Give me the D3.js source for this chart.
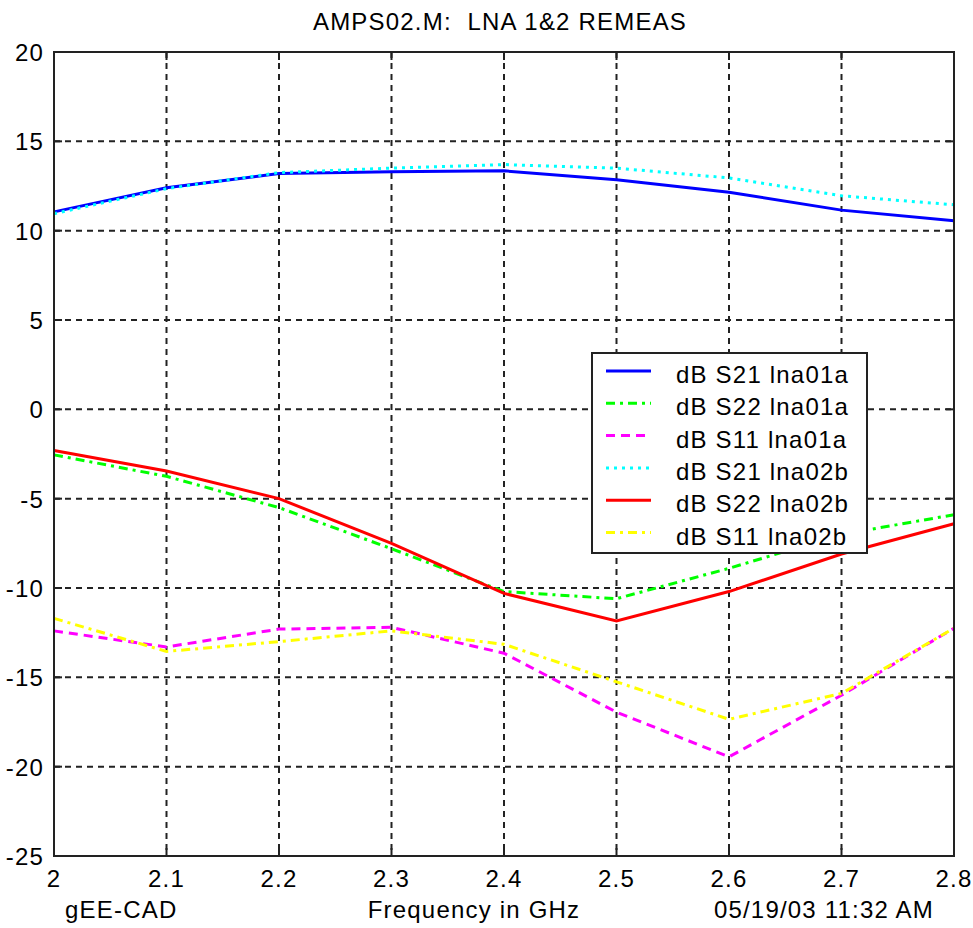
<!DOCTYPE html>
<html>
<head>
<meta charset="utf-8">
<script src="https://cdn.jsdelivr.net/npm/d3@7"></script>
<style>
  body { margin: 0; background: #fff; }
  svg text { font-family: "Liberation Sans", Arial, sans-serif; fill: #000; font-size: 24px; letter-spacing: 1.2px; }
</style>
</head>
<body>
<div class="chart"></div>
<script>
const width = 973
const height = 928

// frequency points (GHz)
const freq = [2.0, 2.1, 2.2, 2.3, 2.4, 2.5, 2.6, 2.7, 2.8];

const s21_lna01a = [11.05, 12.4, 13.2, 13.3, 13.35, 12.85, 12.15, 11.15, 10.55];
const s22_lna01a = [-2.55, -3.75, -5.5, -7.8, -10.2, -10.6, -8.9, -7.0, -5.9];
const s11_lna01a = [-12.4, -13.3, -12.3, -12.2, -13.65, -16.95, -19.45, -16.0, -12.25];
const s21_lna02b = [10.95, 12.35, 13.25, 13.5, 13.7, 13.5, 12.95, 11.95, 11.45];
const s22_lna02b = [-2.3, -3.45, -5.0, -7.5, -10.3, -11.85, -10.2, -8.1, -6.4];
const s11_lna02b = [-11.7, -13.55, -13.0, -12.4, -13.15, -15.25, -17.35, -15.9, -12.25];

const seriesNames = ["dB S21 lna01a", "dB S22 lna01a", "dB S11 lna01a",
                     "dB S21 lna02b", "dB S22 lna02b", "dB S11 lna02b"];
const seriesValues = [s21_lna01a, s22_lna01a, s11_lna01a, s21_lna02b, s22_lna02b, s11_lna02b];
const seriesColors = ["#0000ff", "#00ff00", "#ff00ff", "#00ffff", "#ff0000", "#ffff00"];
const seriesDash = [null, "9,5,3,5", "9,6", "3,5", null, "9,5,3,5"];

const xTicks = [2, 2.1, 2.2, 2.3, 2.4, 2.5, 2.6, 2.7, 2.8];
const yTicks = [20, 15, 10, 5, 0, -5, -10, -15, -20, -25];

const margin = {top: 52, right: 19, bottom: 72, left: 54};

const svg = d3.select(".chart").append("svg")
  .attr("width", width)
  .attr("height", height);

const x = d3.scaleLinear().domain([2, 2.8]).range([margin.left, width - margin.right]);
const y = d3.scaleLinear().domain([-25, 20]).range([height - margin.bottom, margin.top]);

// grid
const grid = svg.append("g")
  .attr("stroke", "#222")
  .attr("stroke-width", 2)
  .attr("stroke-dasharray", "6,5");

grid.selectAll(".gx")
  .data(xTicks.slice(1, -1))
  .join("line")
  .attr("x1", d => x(d)).attr("x2", d => x(d))
  .attr("y1", y(20)).attr("y2", y(-25));

grid.selectAll(".gy")
  .data(yTicks.slice(1, -1))
  .join("line")
  .attr("x1", x(2)).attr("x2", x(2.8))
  .attr("y1", d => y(d)).attr("y2", d => y(d));

// inner ticks on all four sides
const ticks = svg.append("g").attr("stroke", "#222").attr("stroke-width", 2);
xTicks.forEach(t => {
  ticks.append("line").attr("x1", x(t)).attr("x2", x(t)).attr("y1", y(-25)).attr("y2", y(-25) - 8);
  ticks.append("line").attr("x1", x(t)).attr("x2", x(t)).attr("y1", y(20)).attr("y2", y(20) + 8);
});
yTicks.forEach(t => {
  ticks.append("line").attr("x1", x(2)).attr("x2", x(2) + 8).attr("y1", y(t)).attr("y2", y(t));
  ticks.append("line").attr("x1", x(2.8)).attr("x2", x(2.8) - 8).attr("y1", y(t)).attr("y2", y(t));
});

// series lines
const line = d3.line()
  .x((d, i) => x(freq[i]))
  .y(d => y(d));

svg.append("g")
  .selectAll("path")
  .data(seriesValues)
  .join("path")
  .attr("fill", "none")
  .attr("stroke", (d, i) => seriesColors[i])
  .attr("stroke-width", 3)
  .attr("stroke-dasharray", (d, i) => seriesDash[i])
  .attr("d", line);

// frame
svg.append("rect")
  .attr("x", x(2)).attr("y", y(20))
  .attr("width", x(2.8) - x(2)).attr("height", y(-25) - y(20))
  .attr("fill", "none")
  .attr("stroke", "#222")
  .attr("stroke-width", 2);

// tick labels
svg.append("g")
  .selectAll("text")
  .data(yTicks)
  .join("text")
  .attr("x", x(2) - 10)
  .attr("y", d => y(d) + 9)
  .attr("text-anchor", "end")
  .text(d => d);

svg.append("g")
  .selectAll("text")
  .data(xTicks)
  .join("text")
  .attr("x", d => x(d))
  .attr("y", y(-25) + 31)
  .attr("text-anchor", "middle")
  .text(d => d);

// title + bottom labels
svg.append("text")
  .attr("x", 500).attr("y", 30)
  .attr("text-anchor", "middle")
  .attr("xml:space", "preserve")
  .text("AMPS02.M:  LNA 1&2 REMEAS");

svg.append("text").attr("x", 65).attr("y", 918).text("gEE-CAD");
svg.append("text").attr("x", 474).attr("y", 918).attr("text-anchor", "middle").text("Frequency in GHz");
svg.append("text").attr("x", 934).attr("y", 918).attr("text-anchor", "end").text("05/19/03 11:32 AM");

// legend
const legend = svg.append("g").attr("transform", "translate(592,353)");
legend.append("rect")
  .attr("width", 275).attr("height", 200)
  .attr("fill", "#fff")
  .attr("stroke", "#222")
  .attr("stroke-width", 2);

const rows = legend.selectAll("g")
  .data(seriesNames)
  .join("g")
  .attr("transform", (d, i) => `translate(0, ${18 + i * 32.3})`);

rows.append("line")
  .attr("x1", 14).attr("x2", 59)
  .attr("stroke", (d, i) => seriesColors[i])
  .attr("stroke-width", 3)
  .attr("stroke-dasharray", (d, i) => seriesDash[i]);

rows.append("text")
  .attr("x", 84).attr("y", 12)
  .text(d => d);
</script>
</body>
</html>
